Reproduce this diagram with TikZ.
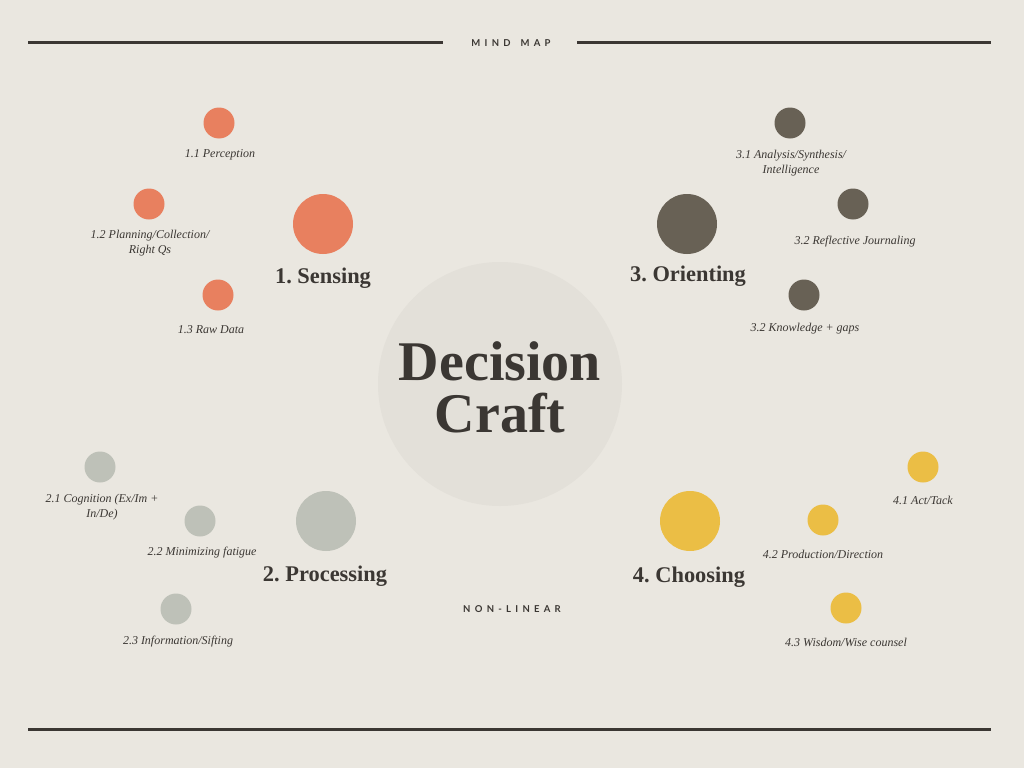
\documentclass[tikz,border=0pt]{standalone}
\usepackage{fontspec}
\setmainfont{Liberation Serif}
\newfontfamily\capsfont[LetterSpace=45]{Lato}
\frenchspacing
\definecolor{bg}{HTML}{EAE7E0}
\definecolor{hub}{HTML}{E3E0D9}
\definecolor{ink}{HTML}{3B3733}
\definecolor{cOr}{HTML}{E8805F}
\definecolor{cDk}{HTML}{686155}
\definecolor{cGy}{HTML}{BEC1B8}
\definecolor{cYe}{HTML}{EBBE45}
\tikzset{
  big/.style={circle,inner sep=0pt,minimum size=60pt},
  small/.style={circle,inner sep=0pt,minimum size=31pt},
  sub/.style={text=ink,align=center,font=\fontsize{12}{15}\selectfont\itshape\frenchspacing,inner sep=0pt},
  head/.style={text=ink,font=\fontsize{22.4}{26}\selectfont\bfseries\frenchspacing,inner sep=0pt},
  caps/.style={text=ink,font=\fontsize{9.5}{11}\selectfont\capsfont\bfseries,inner sep=0pt},
  rule/.style={draw=ink,line width=3pt},
}
\begin{document}
\begin{tikzpicture}[x=1pt,y=-1pt]
\fill[bg] (0,0) rectangle (1024,768);
\useasboundingbox (0,0) rectangle (1024,768);
% rules
\coordinate (t1) at (28,43); \coordinate (t2) at (443,43);
\coordinate (t3) at (577,43); \coordinate (t4) at (991,43);
\coordinate (b1) at (28,729); \coordinate (b2) at (991,729);
\draw[rule] (t1) -- (t2);
\draw[rule] (t3) -- (t4);
\draw[rule] (b1) -- (b2);
\node[caps] (mm) at (511,43) {MIND\hspace{10pt}MAP};
\node[caps] (nl) at (512,609) {NON-LINEAR};
% hub
\node[circle,fill=hub,minimum size=244pt,inner sep=0pt] (hub) at (500,384) {};
\node[text=ink,align=center,font=\fontsize{56}{52}\selectfont\bfseries] (title) at (500,387) {Decision\\Craft};
% 1 Sensing
\node[big,fill=cOr] (s) at (323,224) {};
\node[head] (sl) at (323,278) {1. Sensing};
\node[small,fill=cOr] (s1) at (219,123) {};
\node[sub] (s1l) at (220,155) {1.1 Perception};
\node[small,fill=cOr] (s2) at (149,204) {};
\node[sub] (s2l) at (150,243) {1.2 Planning/Collection/\\Right Qs};
\node[small,fill=cOr] (s3) at (218,295) {};
\node[sub] (s3l) at (211,330) {1.3 Raw Data};
% 3 Orienting
\node[big,fill=cDk] (o) at (687,224) {};
\node[head] (ol) at (688,276) {3. Orienting};
\node[small,fill=cDk] (o1) at (790,123) {};
\node[sub] (o1l) at (791,163) {3.1 Analysis/Synthesis/\\Intelligence};
\node[small,fill=cDk] (o2) at (853,204) {};
\node[sub] (o2l) at (855,242) {3.2 Reflective Journaling};
\node[small,fill=cDk] (o3) at (804,295) {};
\node[sub] (o3l) at (805,329) {3.2 Knowledge + gaps};
% 2 Processing
\node[big,fill=cGy] (p) at (326,521) {};
\node[head] (pl) at (325,576) {2. Processing};
\node[small,fill=cGy] (p1) at (100,467) {};
\node[sub] (p1l) at (102,507) {2.1 Cognition (Ex/Im +\\In/De)};
\node[small,fill=cGy] (p2) at (200,521) {};
\node[sub] (p2l) at (202,553) {2.2 Minimizing fatigue};
\node[small,fill=cGy] (p3) at (176,609) {};
\node[sub] (p3l) at (178,642) {2.3 Information/Sifting};
% 4 Choosing
\node[big,fill=cYe] (c) at (690,521) {};
\node[head] (cl) at (689,577) {4. Choosing};
\node[small,fill=cYe] (c1) at (923,467) {};
\node[sub] (c1l) at (923,500) {4.1 Act/Tack};
\node[small,fill=cYe] (c2) at (823,520) {};
\node[sub] (c2l) at (823,554) {4.2 Production/Direction};
\node[small,fill=cYe] (c3) at (846,608) {};
\node[sub] (c3l) at (846,642) {4.3 Wisdom/Wise counsel};
\end{tikzpicture}
\end{document}
